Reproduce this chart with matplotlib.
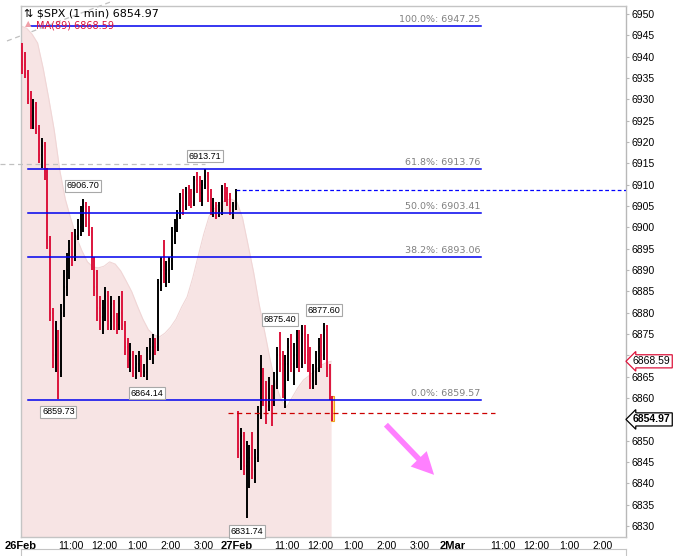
import matplotlib
matplotlib.use("Agg")
import matplotlib.pyplot as plt
from matplotlib.patches import Rectangle
import numpy as np

# $SPX 1 min chart, read by eye as 5-min bars
# 26 Feb 9:30-16:00 (78 bars) then 27 Feb 9:30 -> ~12:21 (35 bars)
bar_open = [6942, 6938, 6936, 6930, 6926, 6928, 6923, 6917, 6919, 6913,
            6897, 6880, 6870, 6874, 6866, 6880, 6886, 6890, 6895, 6893,
            6898, 6900, 6903, 6905, 6902, 6899, 6892, 6886, 6881, 6879,
            6881, 6884, 6878, 6882, 6878, 6877, 6880, 6877, 6872, 6869,
            6870, 6867, 6868, 6869, 6866, 6866, 6871, 6872, 6873, 6872,
            6887, 6890, 6889, 6890, 6892, 6898, 6901, 6903, 6907, 6905,
            6908, 6907, 6906, 6911, 6910, 6908, 6910, 6912, 6907, 6904,
            6905, 6903, 6904, 6909, 6908, 6906, 6904, 6905,
            6856.5, 6848, 6851, 6844, 6845, 6846, 6843, 6846, 6856, 6866,
            6860, 6858, 6862, 6859, 6864, 6870, 6868, 6862, 6868, 6872,
            6868, 6870, 6874, 6868, 6875, 6870, 6868, 6864, 6866, 6869,
            6872, 6870, 6876, 6867, 6860]
bar_high = [6943.2, 6941, 6937, 6932, 6930, 6929.5, 6924, 6921, 6920, 6914,
            6898, 6881, 6878, 6876, 6882, 6890, 6894, 6897, 6899, 6899.5,
            6902, 6905, 6906.7, 6906, 6905, 6900, 6893, 6890, 6884, 6883,
            6886, 6885, 6884, 6883, 6880, 6884, 6885, 6878, 6874, 6873,
            6871, 6870, 6871, 6870, 6868, 6872, 6874, 6875, 6874, 6888,
            6893, 6897, 6892, 6893, 6900, 6902, 6904, 6908, 6909, 6909.5,
            6910, 6909, 6912, 6913, 6912, 6911, 6913.71, 6913, 6909, 6907,
            6906, 6906, 6910, 6910.4, 6909.5, 6908, 6906, 6909,
            6857, 6853, 6852, 6850, 6849, 6852, 6848, 6858, 6870, 6867,
            6864, 6865, 6863, 6866, 6872, 6875.4, 6871, 6870, 6874, 6875,
            6873, 6876, 6876, 6877, 6877.2, 6875, 6872, 6868, 6871, 6874,
            6875, 6877.6, 6877, 6868, 6860.5]
bar_low = [6936, 6935, 6929, 6923, 6923, 6922, 6915, 6914, 6911, 6895,
           6878, 6867, 6866, 6859.73, 6865, 6879, 6884, 6888, 6891, 6892,
           6897, 6898, 6899, 6900, 6898, 6890, 6884, 6878, 6876, 6875,
           6878, 6876, 6876, 6876, 6875, 6876, 6876, 6870, 6867, 6866,
           6865, 6864.5, 6866, 6865, 6865, 6864.14, 6869, 6868, 6870, 6871,
           6885, 6887, 6886, 6887, 6890, 6896, 6899, 6902, 6903, 6904,
           6905, 6904.5, 6905, 6908, 6906, 6905, 6909, 6906, 6903, 6902.5,
           6902, 6902.4, 6903, 6906, 6905, 6903, 6902, 6904,
           6846, 6843, 6842, 6831.74, 6839, 6841, 6840, 6845, 6855, 6858,
           6854, 6857, 6853.5, 6858, 6862, 6866, 6860, 6857.7, 6864, 6866,
           6863, 6867, 6866, 6867, 6868, 6866, 6862, 6862, 6863, 6866,
           6867, 6869, 6865, 6859.5, 6854.5]
bar_close = [6938, 6936, 6930, 6926, 6928, 6923, 6917, 6919, 6913, 6897,
             6880, 6870, 6874, 6866, 6880, 6886, 6890, 6895, 6893, 6898,
             6900, 6903, 6905, 6902, 6899, 6892, 6886, 6881, 6879, 6881,
             6884, 6878, 6882, 6878, 6877, 6880, 6877, 6872, 6869, 6870,
             6867, 6868, 6869, 6866, 6866, 6871, 6872, 6873, 6872, 6887,
             6890, 6889, 6890, 6892, 6898, 6901, 6903, 6907, 6905, 6908,
             6907, 6906, 6911, 6910, 6908, 6910, 6912, 6907, 6904, 6905,
             6903, 6904, 6909, 6908, 6906, 6904, 6905, 6908.8,
             6848, 6851, 6844, 6845, 6846, 6843, 6846, 6856, 6866, 6860,
             6858, 6862, 6859, 6864, 6870, 6868, 6862, 6868, 6872, 6868,
             6870, 6874, 6868, 6875, 6870, 6868, 6864, 6866, 6869, 6872,
             6870, 6876, 6867, 6860, 6854.97]

# MA(89) read every 10 trading minutes from 26 Feb 9:30
ma89 = [6947.2, 6946.7, 6945.3, 6943.2, 6937.3, 6930.3, 6922.8, 6913.4, 6906.6, 6902.0,
        6897.7, 6894.5, 6891.9, 6890.7, 6890.5, 6890.9, 6891.9, 6891.4, 6889.8, 6887.4,
        6884.9, 6881.6, 6878.5, 6876.0, 6874.8, 6874.3, 6875.2, 6876.6, 6878.5, 6881.3,
        6883.7, 6888.1, 6893.3, 6898.4, 6902.7, 6904.5, 6905.7, 6906.4, 6906.6, 6905.9,
        6902.2, 6895.9, 6889.5, 6882.0, 6875.5, 6868.9, 6863.1, 6859.5, 6857.9, 6860.2,
        6862.4, 6864.2, 6865.2, 6866.3, 6867.5, 6868.2, 6868.6]
ma_last = 6868.59
last_price = 6854.97

fib_names = ["100.0%", "61.8%", "50.0%", "38.2%", "0.0%"]
fib_levels = [6947.25, 6913.76, 6903.41, 6893.06, 6859.57]

# price callouts: bar index, price, above the bar?
callout_bar = [13, 22, 45, 66, 81, 93, 109]
callout_price = [6859.73, 6906.70, 6864.14, 6913.71, 6831.74, 6875.40, 6877.60]
callout_up = [False, True, False, True, False, True, True]

# x axis in trading minutes from 26 Feb 9:30 (390 per session)
tick_pos = [0, 90, 150, 210, 270, 330, 390, 480, 540, 600, 660, 720,
            780, 870, 930, 990, 1050]
tick_lab = ["26Feb", "11:00", "12:00", "1:00", "2:00", "3:00", "27Feb", "11:00",
            "12:00", "1:00", "2:00", "3:00", "2Mar", "11:00", "12:00", "1:00", "2:00"]
day_labels = ["26Feb", "27Feb", "2Mar"]

RED = "#dc143c"
BLUE = "#0000ee"
YBOT, YTOP = 6827.4, 6951.9

fig = plt.figure(figsize=(6.96, 5.56), dpi=100)
ax = fig.add_axes([21 / 696, 1 - 537 / 556, 605 / 696, 531 / 556])
ax.set_xlim(0, 1092.5)
ax.set_ylim(YBOT, YTOP)

# MA(89) shaded area
ma_x = np.arange(len(ma89)) * 10
ax.fill_between(ma_x, ma89, YBOT, color="#f7e4e4", lw=0, zorder=1)
ax.plot(ma_x, ma89, color="#f0d6d6", lw=0.8, zorder=1)

# OHLC bars
o = np.array(bar_open)
h = np.array(bar_high)
l = np.array(bar_low)
c = np.array(bar_close)
mins = np.arange(len(o)) * 5 + 2.5
cols = np.where(c >= o, "black", RED)
ax.vlines(mins, l, h, colors=cols, lw=1.4, zorder=4)
ax.hlines(o, mins - 1.6, mins, colors=cols, lw=1.1, zorder=4)
ax.hlines(c, mins, mins + 1.6, colors=cols, lw=1.1, zorder=4)

# highlight the live bar
ax.add_patch(Rectangle((mins[-1] - 3.5, l[-1]), 7, h[-1] - l[-1],
                       fc="#ffe680", ec="#f0a020", lw=0.8, zorder=3))

# fibonacci retracement
for name, lev in zip(fib_names, fib_levels):
    ax.plot([12.5, 830.5], [lev, lev], color=BLUE, lw=1.1, zorder=5)
    ax.annotate("%s: %.2f" % (name, lev), (830, lev), xytext=(0, 1.5),
                textcoords="offset points", ha="right", va="bottom",
                fontsize=6.8, color="#808080", zorder=6)

# previous close / today's open
ax.plot([389, 1092.5], [c[77], c[77]], color="#0000ff", lw=0.9, ls=(0, (3, 2)), zorder=5)
ax.plot([374, 856], [o[78], o[78]], color="#cc0000", lw=0.9, ls=(0, (4, 3)), zorder=5)

# old trendline and high marker line
ax.plot([-25.3, 160.7], [6943.7, 6952.8], color="#c0c0c0", lw=0.9, ls=(0, (4, 3)),
        clip_on=False, zorder=0)
ax.plot([-38, mins[66]], [6914.8, 6914.8], color="#c0c0c0", lw=0.9, ls=(0, (4, 3)),
        clip_on=False, zorder=2)

for bi, p, up in zip(callout_bar, callout_price, callout_up):
    ax.annotate("%.2f" % p, (mins[bi], p), xytext=(0, 6 if up else -6),
                textcoords="offset points", ha="center",
                va="bottom" if up else "top", fontsize=6.5,
                family=["Liberation Sans", "DejaVu Sans"],
                bbox=dict(boxstyle="square,pad=0.2", fc="white", ec="#a8a8a8", lw=0.8),
                zorder=7)

# down arrow
ax.annotate("", xy=(749.4, 6841.5), xytext=(655.5, 6854.2),
            arrowprops=dict(arrowstyle="simple,head_width=1.6,head_length=1.6,tail_width=0.4",
                            fc="#ff80ff", ec="none"), zorder=6)

# axes styling
for s in ax.spines.values():
    s.set_color("#c4c4c4")
    s.set_linewidth(1)
ax.spines["right"].set_color("#b8b8b8")
ax.yaxis.tick_right()
ax.set_yticks(np.arange(6830, 6951, 5))
ax.tick_params(axis="y", length=2, color="#b8b8b8", pad=2, labelsize=7.5)
for t in ax.get_yticklabels():
    t.set_family(["Liberation Sans", "DejaVu Sans"])
    # hidden under the last-price tag in the original
    if t.get_text() in ("6855", "6870"):
        t.set_visible(False)
ax.set_xticks(tick_pos)
ax.set_xticklabels(tick_lab)
ax.tick_params(axis="x", length=0, pad=3, labelsize=7.5)
for t in ax.get_xticklabels():
    t.set_family(["Liberation Sans Narrow", "Liberation Sans", "DejaVu Sans"])
    if t.get_text() in day_labels:
        t.set_fontweight("bold")
        t.set_fontsize(8)

# right axis price tags
ytr = ax.get_yaxis_transform()
ax.annotate("%.2f" % ma_last, (1, ma_last), xycoords=ytr, xytext=(5, 0),
            textcoords="offset points", ha="left", va="center", fontsize=7.5,
            family=["Liberation Sans", "DejaVu Sans"], annotation_clip=False,
            bbox=dict(boxstyle="larrow,pad=0.15", fc="white", ec=RED, lw=0.9), zorder=8)
ax.annotate("%.2f" % last_price, (1, last_price), xycoords=ytr, xytext=(5, 0),
            textcoords="offset points", ha="left", va="center", fontsize=7.5,
            fontweight="bold", family=["Liberation Sans", "DejaVu Sans"], annotation_clip=False,
            bbox=dict(boxstyle="larrow,pad=0.15", fc="white", ec="black", lw=0.9), zorder=8)

# title lines
fig.text(24 / 696, 1 - 13 / 556, "\u21c5 $SPX (1 min) %.2f" % last_price, fontsize=8,
         va="center", ha="left")
fig.text(25 / 696, 1 - 24 / 556, "\u25b2", fontsize=6, color="#f0a0a8", va="center", ha="left")
fig.text(36 / 696, 1 - 25 / 556, "MA(89) %.2f" % ma_last, fontsize=7, color=RED,
         va="center", ha="left")

# start of the lower pane
ax2 = fig.add_axes([21 / 696, -0.02, 605 / 696, 0.02 + 7 / 556])
ax2.set_xticks([])
ax2.set_yticks([])
for s in ax2.spines.values():
    s.set_color("#c4c4c4")

fig.savefig("out.png", dpi=100)
